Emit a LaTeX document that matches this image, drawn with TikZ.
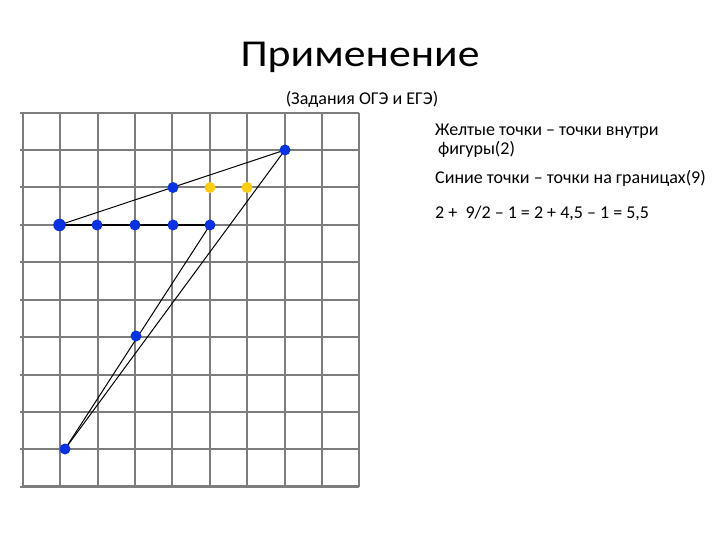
\documentclass[tikz,border=0pt]{standalone}
\usepackage{fontspec}
\setmainfont{Carlito}
\definecolor{gridgray}{RGB}{125,125,125}
\definecolor{dotblue}{RGB}{10,50,225}
\definecolor{dotyellow}{RGB}{250,205,20}
\tikzset{
  gridline/.style={draw=gridgray, line width=2pt},
  edge/.style={draw=black, line width=1pt},
  thickedge/.style={draw=black, line width=2pt},
  bdot/.style={circle, fill=dotblue, inner sep=0pt, minimum size=11pt},
  ydot/.style={circle, fill=dotyellow, inner sep=0pt, minimum size=11pt},
  txt/.style={anchor=base west, inner sep=0pt, font=\fontsize{18}{21}\selectfont}
}
\begin{document}
\begin{tikzpicture}[x=1pt,y=-1pt]
\useasboundingbox (0,0) rectangle (720,540);
% grid
\foreach \i in {0,...,9} {
  \draw[gridline] (22.7+\i*37.4,112.7) -- (22.7+\i*37.4,486.7);
}
\foreach \j in {0,...,10} {
  \draw[gridline] (20,112.7+\j*37.4) -- (359.3,112.7+\j*37.4);
}
\draw[gridgray, line width=2.6pt] (22,486.7) -- (359.3,486.7);
% points
\coordinate (A) at (285,150);
\coordinate (B) at (173,187.5);
\coordinate (Y1) at (210,187.5);
\coordinate (Y2) at (247,187.5);
\coordinate (C1) at (59.5,225);
\coordinate (C2) at (97,225);
\coordinate (C3) at (135,225);
\coordinate (C4) at (173,225);
\coordinate (C5) at (210,225);
\coordinate (D) at (136,336);
\coordinate (E) at (65,449);
% lines
\draw[edge] (C1) -- (A);
\draw[thickedge] (C1) -- (C5);
\draw[edge] (C5) -- (E);
\draw[edge] (A) -- (E);
% dots
\node[bdot] (pA) at (A) {};
\node[bdot] (pB) at (B) {};
\node[ydot] (pY1) at (Y1) {};
\node[ydot] (pY2) at (Y2) {};
\node[bdot, minimum size=12.5pt] (pC1) at (C1) {};
\node[bdot] (pC2) at (C2) {};
\node[bdot] (pC3) at (C3) {};
\node[bdot] (pC4) at (C4) {};
\node[bdot] (pC5) at (C5) {};
\node[bdot] (pD) at (D) {};
\node[bdot] (pE) at (E) {};
% texts
\node[anchor=base, inner sep=0pt, xscale=1.15, font=\fontsize{38}{44}\selectfont] (title) at (360,66.7) {Применение};
\node[anchor=base, inner sep=0pt, font=\fontsize{18}{21}\selectfont] (sub) at (362,105) {(Задания ОГЭ и ЕГЭ)};
\node[txt] (t1) at (435,136) {Желтые точки – точки внутри};
\node[txt] (t2) at (438,155) {фигуры(2)};
\node[txt] (t3) at (435,183.5) {Синие точки – точки на границах(9)};
\node[txt] (t4) at (435,218.5) {2 +\ \ 9/2 – 1 = 2 + 4,5 – 1 = 5,5};
\end{tikzpicture}
\end{document}
